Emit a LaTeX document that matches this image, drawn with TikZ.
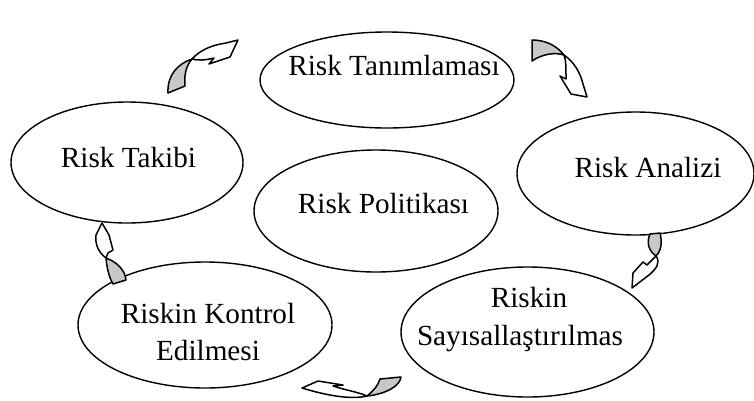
\documentclass[tikz,border=0pt]{standalone}
\usepackage{fontspec}
\setmainfont{Liberation Serif}
\usetikzlibrary{shapes.geometric}
\definecolor{arrowgray}{RGB}{200,200,200}
\tikzset{
  ell/.style={draw=black, line width=1.4pt, ellipse, inner sep=0pt, fill=white},
  lbl/.style={anchor=base, inner sep=0pt, font=\fontsize{29.2}{37.5}\selectfont},
  backface/.style={draw=black, line width=1.5pt, fill=arrowgray, line join=round},
  frontface/.style={draw=black, line width=1.5pt, fill=white, line join=round},
}
\begin{document}
\begin{tikzpicture}[x=1pt,y=-1pt]
\useasboundingbox (0,0) rectangle (754,400);
% ellipses
\node[ell, minimum width=254pt, minimum height=96pt]  (e1) at (387,80) {};
\node[ell, minimum width=232pt, minimum height=121pt] (e2) at (127,162.5) {};
\node[ell, minimum width=237pt, minimum height=123pt] (e3) at (635.5,173.5) {};
\node[ell, minimum width=244pt, minimum height=122pt] (e4) at (376,211) {};
\node[ell, minimum width=254pt, minimum height=126pt] (e5) at (205,325) {};
\node[ell, minimum width=253pt, minimum height=130pt] (e6) at (527.5,332) {};
% labels
\node[lbl] (t1) at (394,75) {Risk Tanımlaması};
\node[lbl] (t2) at (128.5,167) {Risk Takibi};
\node[lbl] (t3) at (648,177) {Risk Analizi};
\node[lbl] (t4) at (383.5,213) {Risk Politikası};
\node[lbl] (t5a) at (208,323) {Riskin Kontrol};
\node[lbl] (t5b) at (208,360) {Edilmesi};
\node[lbl] (t6a) at (529,307) {Riskin};
\node[lbl] (t6b) at (520,345) {Sayısallaştırılmas};
% curved arrow 1 (Takibi -> Tanimlamasi)
\path[backface] (168,93) .. controls (167,76) and (177,64) .. (192,59)
  .. controls (186,66) and (184,75) .. (185,86) -- cycle;
\path[frontface] (192,59) .. controls (200,50) and (212,45) .. (226,43) -- (238,40)
  -- (230,57) -- (209,64) -- (214,58) .. controls (206,60) and (198,61) .. (192,59) -- cycle;
% curved arrow 2 (Tanimlamasi -> Analizi)
\path[backface] (532,40) .. controls (546,40) and (557,46) .. (564,55)
  .. controls (555,52) and (542,54) .. (532,61) -- cycle;
\path[frontface] (564,55) .. controls (574,62) and (580,72) .. (583,84) -- (587,97)
  -- (571,94) -- (560,76) -- (566,79) .. controls (566,68) and (566,60) .. (564,55) -- cycle;
% curved arrow 3 (Analizi -> Sayisallastirilmas)
\path[backface] (650,234) .. controls (646,243) and (649,251) .. (656,256)
  .. controls (662,250) and (662,241) .. (660,233) -- cycle;
\path[frontface] (656,256) .. controls (661,263) and (656,269) .. (649,275) -- (632,288)
  -- (633,273) -- (643,262) -- (647,265) .. controls (650,262) and (653,259) .. (656,256) -- cycle;
% curved arrow 4 (Kontrol -> Takibi)
\path[backface] (106,258) .. controls (107,270) and (110,279) .. (113,284) -- (126,280)
  .. controls (125,270) and (117,262) .. (106,258) -- cycle;
\path[frontface] (106,258) .. controls (98,252) and (95,244) .. (96,235) -- (102,223)
  -- (109,235) -- (113,250) -- (108,253) -- cycle;
% curved arrow 5 (Sayisallastirilmas -> Kontrol)
\path[backface] (380,379) -- (401,377) .. controls (400,386) and (386,394) .. (367,396)
  .. controls (373,391) and (378,386) .. (380,379) -- cycle;
\path[frontface] (367,396) .. controls (350,400) and (325,395) .. (302,388) -- (318,381)
  -- (343,385) -- (333,386) .. controls (345,390) and (358,392) .. (367,396) -- cycle;
\end{tikzpicture}
\end{document}
